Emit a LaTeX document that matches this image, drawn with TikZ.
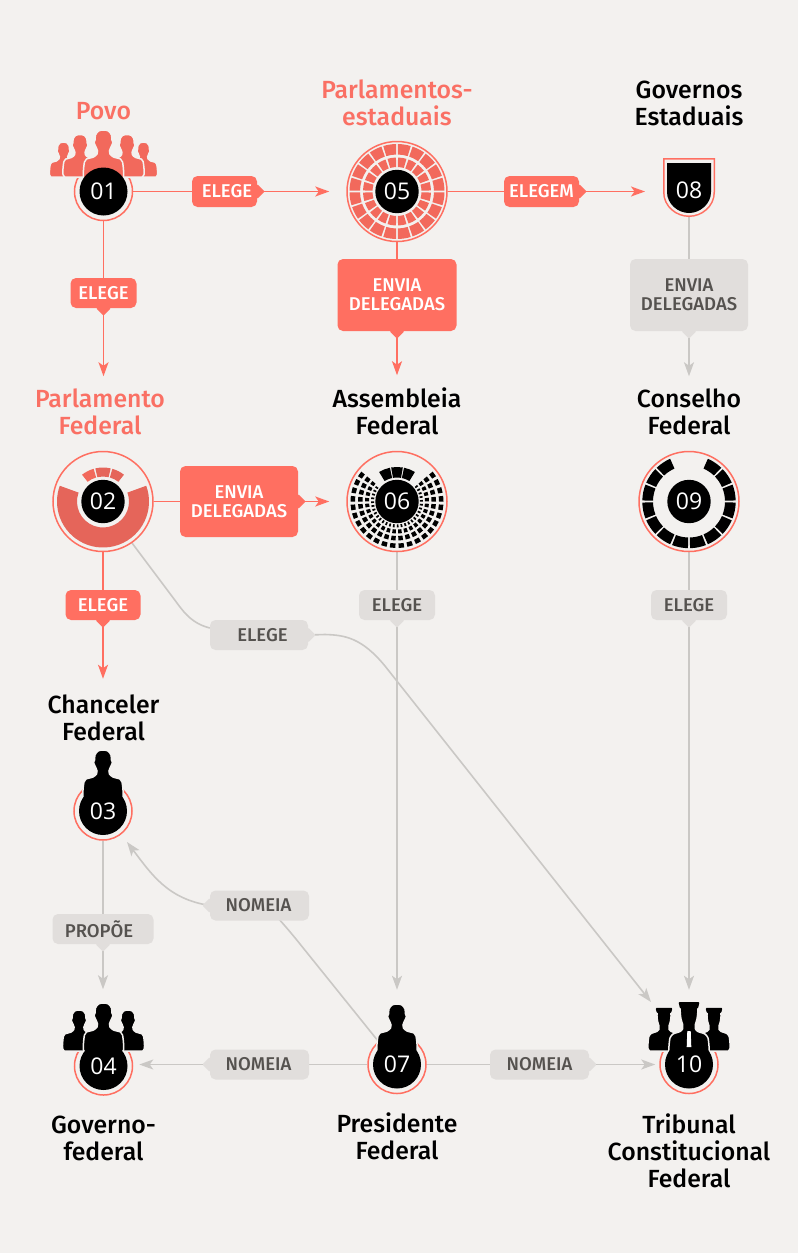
\documentclass[tikz,border=0pt]{standalone}
\usepackage{fontspec}
\setmainfont{Fira Sans}
\newfontfamily\medfont{Fira Sans Medium}
\newfontfamily\numfont{Open Sans}
\usetikzlibrary{arrows.meta, positioning, backgrounds, calc}
\definecolor{fondo}{HTML}{F3F1EF}
\definecolor{rojo}{HTML}{FF6F61}
\definecolor{rojotitulo}{HTML}{FA7064}
\definecolor{rojosilla}{HTML}{F2695C}
\definecolor{rojoscuro}{HTML}{E5655A}
\definecolor{grisclaro}{HTML}{E1DEDC}
\definecolor{grislinea}{HTML}{CAC8C5}
\definecolor{gristexto}{HTML}{55524F}
\newcommand{\seatrow}[5]{%
  \foreach \a in {#1}
    \fill (\a+#3:#4) arc[start angle=\a+#3, end angle=\a+#2-#3, radius=#4]
      -- (\a+#2-#3:#5) arc[start angle=\a+#2-#3, end angle=\a+#3, radius=#5] -- cycle;
}
\tikzset{
  person/.pic={
    \path[pic actions] plot[smooth, tension=.5] coordinates {
      (-18,0) (-20,-3) (-20,-10) (-19,-18) (-17,-21) (-10,-23) (-6.5,-26) (-6,-29) (-7.5,-33)
      (-9.5,-37.5) (-8.5,-40) (-8,-45) (-5,-49) (0,-50) (5,-49) (8,-45) (8.5,-40) (9.5,-37.5)
      (7.5,-33) (6,-29) (6.5,-26) (10,-23) (17,-21) (19,-18) (20,-10) (20,-3) (18,0)} -- cycle;
  },
  judge/.pic={
    \path[pic actions] plot[smooth, tension=.4] coordinates {
      (-18,0) (-20,-3) (-20,-10) (-19,-18) (-16,-22) (-9,-24.5) (-6.5,-27) (-6.5,-32)
      (-8,-37) (-8,-47) (8,-47) (8,-37)
      (6.5,-32) (6.5,-27) (9,-24.5) (16,-22) (19,-18) (20,-10) (20,-3) (18,0)} -- cycle;
    \fill[black, rounded corners=1pt] (-10.5,-54) -- (10.5,-54) -- (9,-47.5) -- (-9,-47.5) -- cycle;
    \fill[black] (-8,-48) rectangle (8,-44);
  }
}
\begin{document}
\begin{tikzpicture}[
  x=1pt, y=-1pt,
  hub/.style={circle, draw=rojo, fill=fondo, line width=1.5pt, minimum size=58pt, inner sep=0pt},
  bighub/.style={hub, minimum size=100pt},
  disc/.style={circle, fill=black, text=white, font=\numfont\fontsize{23}{23}\selectfont,
    minimum size=48pt, inner sep=0pt},
  smalldisc/.style={disc, minimum size=43.4pt},
  titulo/.style={align=center, inner sep=0pt, font=\medfont\fontsize{24.8}{27}\selectfont},
  tag/.style={rectangle, rounded corners=5.5pt, inner sep=0pt, align=center,
    font=\medfont\fontsize{18.5}{19}\selectfont},
  tagred/.style={tag, fill=rojo, text=white},
  taggray/.style={tag, fill=grisclaro, text=gristexto},
  lred/.style={rojo, line width=1.6pt},
  lgray/.style={grislinea, line width=1.6pt},
  arr/.style={-{Stealth[length=14pt, width=10pt, inset=3.5pt]}},
  bred/.style={fill=rojosilla, draw=fondo, line width=1.5pt},
  bblack/.style={fill=black, draw=fondo, line width=1.5pt}
]
  \begin{pgfonlayer}{background}
    \fill[fondo] (0,0) rectangle (798,1253);
  \end{pgfonlayer}
  \useasboundingbox (0,0) rectangle (798,1253);

  % circles
  \node[hub] (n01) at (103.5,191.5) {};
  \node[bighub] (n05) at (397,191.5) {};
  \node[bighub] (n02) at (103,501.5) {};
  \node[bighub] (n06) at (397,501.5) {};
  \node[bighub] (n09) at (689,501.5) {};
  \node[hub] (n03) at (103,811) {};
  \node[hub] (n04) at (103.5,1066) {};
  \node[hub] (n07) at (397,1064.5) {};
  \node[hub] (n10) at (689,1064.5) {};
  \node[minimum width=52pt, minimum height=59pt, inner sep=0pt, outer sep=0pt] (n08) at (689,187.5) {};

  % figures
  \foreach \x/\s/\y in {-40/.7/177,40/.7/177,-23.5/.85/177,23.5/.85/177,0/1/180}
    \pic[bred, scale=\s] at (103.5+\x,\y) {person};
  \pic[bblack] at (103,800) {person};
  \foreach \x/\s/\y in {-24.5/.82/1051,24.5/.82/1051,0/1/1053}
    \pic[bblack, scale=\s] at (103.5+\x,\y) {person};
  \pic[bblack] at (397,1054) {person};
  \foreach \x/\s/\y in {-25/.8/1051,25/.8/1051,0/1/1056}
    \pic[bblack, scale=\s] at (689+\x,\y) {judge};

  % shield
  \fill[rojo] (663,158) -- (715,158) -- (715,192) .. controls (715,207) and (702,217) .. (689,217)
    .. controls (676,217) and (663,207) .. (663,192) -- cycle;
  \fill[fondo] (664.5,159.5) -- (713.5,159.5) -- (713.5,192) .. controls (713.5,206) and (701,215.5) .. (689,215.5)
    .. controls (677,215.5) and (664.5,206) .. (664.5,192) -- cycle;
  \fill[black] (667,163) -- (711,163) -- (711,192) .. controls (711,204) and (700,213) .. (689,213)
    .. controls (678,213) and (667,204) .. (667,192) -- cycle;

  % seats
  \begin{scope}[shift={(397,191.5)}, rojosilla]
    \seatrow{0,18,...,342}{18}{1.2}{47.5}{37}
    \seatrow{0,18,...,342}{18}{1.8}{34}{24.5}
  \end{scope}
  \begin{scope}[shift={(103,501.5)}, rojoscuro]
    \fill (-20:46) arc[start angle=-20, end angle=200, radius=46]
      -- (200:26) arc[start angle=200, end angle=-20, radius=26] -- cycle;
    \fill[rojosilla] (232:25) arc[start angle=232, end angle=254, radius=25]
      -- (254:34) arc[start angle=254, end angle=232, radius=34] -- cycle;
    \seatrow{257}{26}{0}{34}{25}
    \seatrow{286}{22}{0}{34}{25}
  \end{scope}
  \begin{scope}[shift={(397,501.5)}, black]
    \seatrow{-42,-31,...,211}{11}{2}{46.5}{42}
    \seatrow{-42,-31,...,211}{11}{2}{39}{34.5}
    \seatrow{-42,-31,...,211}{11}{2.2}{32}{28}
    \seatrow{-42,-33,...,213}{9}{2.5}{26}{23}
    \seatrow{238,259.5,281}{21}{.8}{34.5}{24}
  \end{scope}
  \begin{scope}[shift={(689,501.5)}, black]
    \seatrow{-67.5,-45,...,225}{22.5}{1.3}{46.7}{36}
  \end{scope}

  % numbers
  \foreach \p/\t in {n01/01,n03/03,n04/04,n07/07,n10/10}
    \node[disc] (d\t) at (\p) {\t};
  \foreach \p/\t in {n05/05,n02/02,n06/06,n09/09}
    \node[smalldisc] (d\t) at (\p) {\t};
  \node[text=white, font=\numfont\fontsize{23}{23}\selectfont, inner sep=0pt] (d08) at (689,190) {08};
  \fill[white] (687.3,1031) -- (690.7,1031) -- (691.3,1047) -- (686.7,1047) -- cycle;

  % titles
  \node[titulo, text=rojotitulo, above=8pt of n01, yshift=34pt] (t01) {Povo};
  \node[titulo, text=rojotitulo, above=15pt of n05] (t05) {Parlamentos-\\estaduais};
  \node[titulo, above=32pt of n08] (t08) {Governos\\Estaduais};
  \node[titulo, text=rojotitulo, above=16pt of n02, xshift=-3pt] (t02) {Parlamento\\Federal};
  \node[titulo, above=16pt of n06] (t06) {Assembleia\\Federal};
  \node[titulo, above=16pt of n09] (t09) {Conselho\\Federal};
  \node[titulo, above=40pt of n03, xshift=.5pt] (t03) {Chanceler\\Federal};
  \node[titulo, below=20pt of n04] (t04) {Governo-\\federal};
  \node[titulo, below=18.5pt of n07] (t07) {Presidente\\Federal};
  \node[titulo, below=19pt of n10] (t10) {Tribunal\\Constitucional\\Federal};

  % labels
  \node[tagred, minimum width=65pt, minimum height=31pt] (a1) at (224.5,191.5) {\hspace{5pt}ELEGE};
  \node[tagred, minimum width=66pt, minimum height=30pt] (a2) at (103.5,293) {ELEGE};
  \node[tagred, minimum width=75pt, minimum height=31pt] (a3) at (541.5,191.5) {ELEGEM};
  \node[tagred, minimum width=119pt, minimum height=72pt] (a4) at (397,295) {ENVIA\\DELEGADAS};
  \node[taggray, minimum width=118pt, minimum height=72pt] (a5) at (689,295) {ENVIA\\DELEGADAS};
  \node[tagred, minimum width=118pt, minimum height=71pt] (a6) at (239,501.5) {ENVIA\\DELEGADAS};
  \node[tagred, minimum width=75pt, minimum height=30pt] (a7) at (103,605) {ELEGE};
  \node[taggray, minimum width=98pt, minimum height=30pt] (a8) at (259,635) {\hspace{7pt}ELEGE};
  \node[taggray, minimum width=76pt, minimum height=30pt] (a9) at (397,605) {ELEGE};
  \node[taggray, minimum width=76pt, minimum height=30pt] (a10) at (689,605) {ELEGE};
  \node[taggray, minimum width=101pt, minimum height=30pt] (a11) at (103,929) {PROPÕE\hspace{8pt}};
  \node[taggray, minimum width=99pt, minimum height=30pt] (a12) at (259.5,905.5) {NOMEIA\hspace{2pt}};
  \node[taggray, minimum width=99pt, minimum height=30pt] (a13) at (259.5,1064.5) {NOMEIA\hspace{2pt}};
  \node[taggray, minimum width=99pt, minimum height=30pt] (a14) at (539.5,1064.5) {NOMEIA};

  % tails
  \foreach \n/\c in {a1/rojo,a3/rojo,a6/rojo,a8/grisclaro,a14/grisclaro}
    \fill[\c, rounded corners=1pt] ([yshift=7.5pt]\n.east) -- ([xshift=7.5pt]\n.east) -- ([yshift=-7.5pt]\n.east) -- cycle;
  \foreach \n/\c in {a2/rojo,a4/rojo,a7/rojo,a5/grisclaro,a9/grisclaro,a10/grisclaro,a11/grisclaro}
    \fill[\c, rounded corners=1pt] ([xshift=-7.5pt]\n.south) -- ([yshift=-7.5pt]\n.south) -- ([xshift=7.5pt]\n.south) -- cycle;
  \foreach \n/\c in {a12/grisclaro,a13/grisclaro}
    \fill[\c, rounded corners=1pt] ([yshift=7.5pt]\n.west) -- ([xshift=-7.5pt]\n.west) -- ([yshift=-7.5pt]\n.west) -- cycle;

  \coordinate (tip10) at (651,1002);

  % connectors
  \begin{pgfonlayer}{background}
    \foreach \a/\b in {n01.east/a1.west,n01.south/a2.north,n05.east/a3.west,n05.south/a4.north,
                       n02.east/a6.west,n02.south/a7.north}
      \draw[lred] (\a)--(\b);
    \foreach \a/\b in {n08.south/a5.north,n06.south/a9.north,n09.south/a10.north,n03.south/a11.north,
                       n07.west/a13.east,n07.east/a14.west}
      \draw[lgray] (\a)--(\b);
    \draw[lred, arr, shorten >=17pt] (a1.east)--(n05);
    \draw[lred, arr, shorten >=17pt] (a6.east)--(n06);
    \draw[lred, arr, shorten >=18pt] (a3.east)--(a3.east -| n08.west);
    \draw[lred, arr, shorten >=12pt] (a2.south)--(a2.south |- t02.north);
    \draw[lred, arr, shorten >=12pt] (a4.south)--(a4.south |- t06.north);
    \draw[lred, arr, shorten >=16pt] (a7.south)--(a7.south |- t03.north);
    \draw[lgray, arr, shorten >=12pt] (a5.south)--(a5.south |- t09.north);
    \draw[lgray, arr, shorten >=45pt] (a9.south)--(n07);
    \draw[lgray, arr, shorten >=45pt] (a10.south)--(n10);
    \draw[lgray, arr, shorten >=47pt] (a11.south)--(a11.south |- n04.north);
    \draw[lgray, arr, shorten >=6pt] (a13.west)--(a13.west -| n04.east);
    \draw[lgray, arr, shorten >=4pt] (a14.east)--(a14.east -| n10.west);
    \draw[lgray] (n02.-55) -- (180,607) .. controls (189,619) and (198,625) .. ([yshift=7pt]a8.west);
    \draw[lgray, arr] (a8.east) -- (325,634.5) .. controls (345,635) and (362,638) .. (385,666) -- (tip10);
    \draw[lgray] (n07.center) -- (300,944) .. controls (292,934) and (286,927) .. (278,918);
    \draw[lgray, arr] (a12.west) .. controls (168,899) and (152,875) .. (127,842);
  \end{pgfonlayer}
\end{tikzpicture}
\end{document}
